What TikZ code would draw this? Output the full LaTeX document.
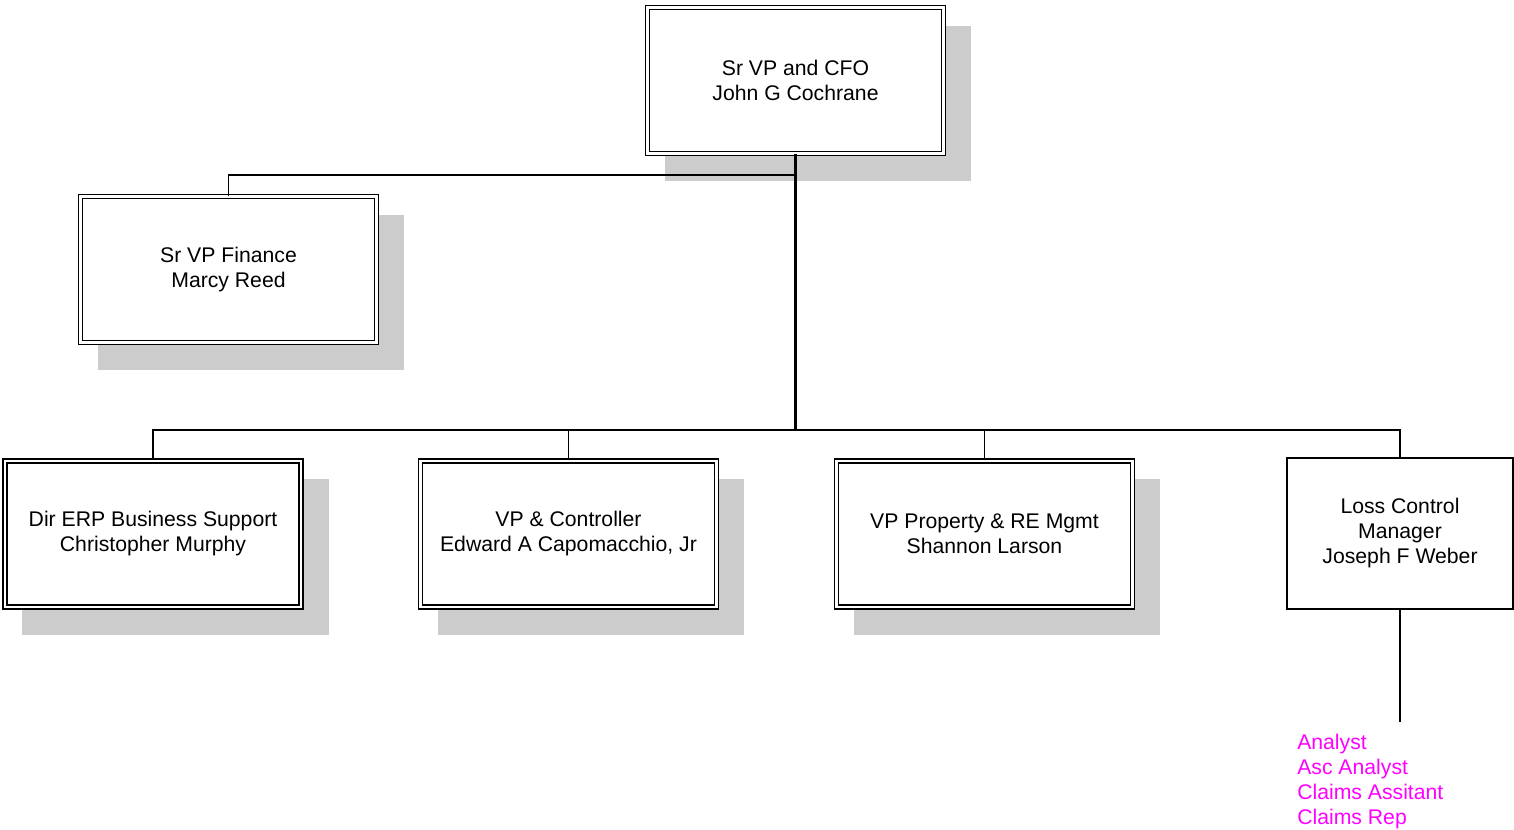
\documentclass[tikz,border=0pt]{standalone}
\usepackage{fontspec}
\setmainfont{Liberation Sans}
\usetikzlibrary{backgrounds}
\definecolor{shadowc}{HTML}{CCCCCC}
\definecolor{pinktext}{HTML}{FF00FF}
\begin{document}
\begin{tikzpicture}[x=0.75pt,y=-0.75pt,
  font=\fontsize{15.9}{18.75}\selectfont,
  dbox/.style={draw=black, fill=white, line width=1.1pt, double=white, double distance=1.9pt,
    minimum width=222pt, minimum height=109.5pt, align=center, inner sep=0pt},
  sbox/.style={draw=black, fill=white, line width=1.1pt,
    minimum width=169.5pt, minimum height=113.25pt, align=center, inner sep=0pt},
  trunk/.style={line width=1.7pt},
  conn/.style={line width=1.3pt},
  thinconn/.style={line width=1.1pt},
  staff/.style={text=pinktext, align=left, anchor=north west, inner sep=0pt}]
\useasboundingbox (0,0) rectangle (1514,830);

\node[dbox] (top) at (795.5,80.5) {Sr VP and CFO\\John G Cochrane};
\node[dbox] (marcy) at (228.5,269.5) {Sr VP Finance\\Marcy Reed};
\node[dbox] (erp) at (153,534) {Dir ERP Business Support\\Christopher Murphy};
\node[dbox] (ctrl) at (568.5,534) {VP \& Controller\\Edward A Capomacchio, Jr};
\node[dbox] (prop) at (984.5,534) {VP Property \& RE Mgmt\\Shannon Larson};
\node[sbox] (lc) at (1400,533.5) {Loss Control\\Manager\\Joseph F Weber};

\begin{pgfonlayer}{background}
\foreach \n in {top,marcy,erp,ctrl,prop}
  \fill[shadowc] ([xshift=13.5pt,yshift=-20.25pt]\n.south west) rectangle ([xshift=20.25pt,yshift=-14.25pt]\n.north east);
\end{pgfonlayer}

\coordinate (j1) at (795.5,175);
\coordinate (bus) at (795.5,430);
\coordinate (lcend) at (1400,722);

\draw[trunk] (top.south) -- (bus);
\draw[conn] (j1) -| (marcy.north);
\draw[conn] (bus) -| (erp.north);
\draw[conn] (bus) -| (ctrl.north);
\draw[conn] (bus) -| (prop.north);
\draw[conn] (bus) -| (lc.north);
\draw[thinconn] (lc.south) -- (lcend);

\node[staff] (stafflist) at (1297,733.5) {Analyst\\Asc Analyst\\Claims Assitant\\Claims Rep};
\end{tikzpicture}
\end{document}
